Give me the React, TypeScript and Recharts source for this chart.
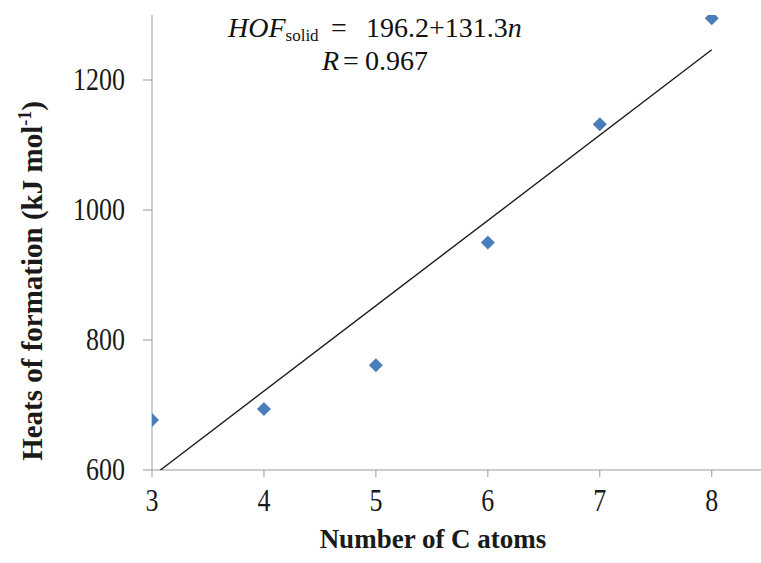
import React from 'react';
import {
    ComposedChart,
    Scatter,
    XAxis,
    YAxis,
    Label,
} from 'recharts';

// Number of carbon atoms and the computed solid-phase heats of formation
const carbonAtoms = [3, 4, 5, 6, 7, 8];
const heatsOfFormation = [677, 694, 761, 950, 1132, 1295];

// Linear fit printed on the chart: HOF = 196.2 + 131.3 n
const fitIntercept = 196.2;
const fitSlope = 131.3;
const fitRange = [3.073, 8];

const xTicks = [3, 4, 5, 6, 7, 8];
const yTicks = [600, 800, 1000, 1200];

const points = carbonAtoms.map((n, i) => ({ n, hof: heatsOfFormation[i] }));
const fitLine = fitRange.map((n) => ({ n, hof: fitIntercept + fitSlope * n }));

const serif = '"Liberation Serif", "Times New Roman", serif';
const axisGrey = '#9a9a9a';
const ink = '#1a1a1a';

const Diamond = (props: any) => {
    const { cx, cy } = props;
    const r = 7;
    return (
        <polygon
            points={`${cx},${cy - r} ${cx + r},${cy} ${cx},${cy + r} ${cx - r},${cy}`}
            fill="#4a7ebb"
        />
    );
};

// tick labels in the original are a bit tall and narrow, so stretch them slightly
const XTick = (props: any) => {
    const { x, payload } = props;
    return (
        <text
            transform={`translate(${x}, 511) scale(1, 1.18)`}
            textAnchor="middle"
            fontFamily={serif}
            fontSize={26}
            fill={ink}
        >
            {payload.value}
        </text>
    );
};

const YTick = (props: any) => {
    const { y, payload } = props;
    return (
        <text
            transform={`translate(125, ${y}) scale(1, 1.18)`}
            textAnchor="end"
            dy="0.34em"
            fontFamily={serif}
            fontSize={26}
            fill={ink}
        >
            {payload.value}
        </text>
    );
};

export default function App() {
    return (
        <div style={{ position: 'absolute', left: 0, top: 0, width: 761, height: 563, background: '#fff' }}>
            <ComposedChart
                width={761}
                height={563}
                margin={{ top: 15, right: 0, bottom: 0, left: 0 }}
            >
                <XAxis
                    dataKey="n"
                    type="number"
                    domain={[3, 8.44]}
                    ticks={xTicks}
                    allowDataOverflow
                    stroke={axisGrey}
                    tickSize={7}
                    tick={<XTick />}
                    height={93}
                >
                    <Label
                        content={() => (
                            <text
                                x={433}
                                y={548}
                                textAnchor="middle"
                                fontFamily={serif}
                                fontWeight="bold"
                                fontSize={27}
                                fill={ink}
                            >
                                Number of C atoms
                            </text>
                        )}
                    />
                </XAxis>
                <YAxis
                    dataKey="hof"
                    type="number"
                    domain={[600, 1300]}
                    ticks={yTicks}
                    allowDataOverflow
                    stroke={axisGrey}
                    tickSize={9}
                    tick={<YTick />}
                    width={152}
                >
                    <Label
                        content={() => (
                            <text
                                transform="translate(42, 281) rotate(-90)"
                                textAnchor="middle"
                                fontFamily={serif}
                                fontWeight="bold"
                                fontSize={29}
                                fill={ink}
                            >
                                Heats of formation (kJ mol
                                <tspan fontSize={18} dy={-11}>-1</tspan>
                                <tspan dy={11}>)</tspan>
                            </text>
                        )}
                    />
                </YAxis>
                <Scatter
                    data={fitLine}
                    line={{ stroke: ink, strokeWidth: 1.4 }}
                    shape={() => null}
                    isAnimationActive={false}
                />
                <Scatter
                    data={points}
                    shape={<Diamond />}
                    isAnimationActive={false}
                />
            </ComposedChart>
            <svg
                width={761}
                height={100}
                style={{ position: 'absolute', left: 0, top: 0, pointerEvents: 'none' }}
            >
                <text y={37} fontFamily={serif} fontSize={28} fill="#111">
                    <tspan x={228} fontStyle="italic">HOF</tspan>
                    <tspan fontSize={17} dy={4}>solid</tspan>
                    <tspan x={331} dy={-4}>=</tspan>
                    <tspan x={366}>196.2+131.3</tspan>
                    <tspan fontStyle="italic">n</tspan>
                </text>
                <text y={70} fontFamily={serif} fontSize={28} fill="#111">
                    <tspan x={322} fontStyle="italic">R</tspan>
                    <tspan x={343}>=</tspan>
                    <tspan x={365}>0.967</tspan>
                </text>
            </svg>
        </div>
    );
}
